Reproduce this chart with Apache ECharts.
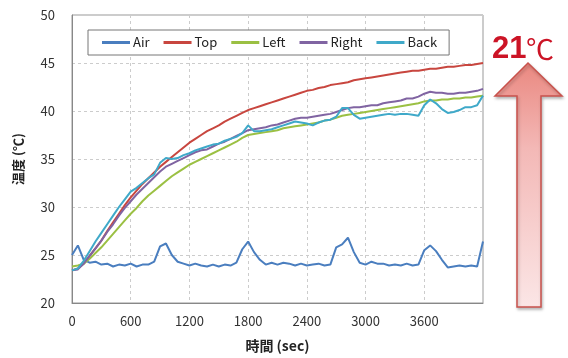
<!DOCTYPE html>
<html>
<head>
<meta charset="utf-8">
<script src="https://cdn.jsdelivr.net/npm/echarts@6/dist/echarts.min.js"></script>
<style>
  html, body { margin: 0; padding: 0; background: #fff; }
  #chart { width: 568px; height: 358px; }
</style>
</head>
<body>
<div id="chart"></div>
<script>
// time axis (sec), one reading per minute
const timeSec = [
  0, 60, 120, 180, 240, 300, 360, 420, 480, 540,
  600, 660, 720, 780, 840, 900, 960, 1020, 1080, 1140,
  1200, 1260, 1320, 1380, 1440, 1500, 1560, 1620, 1680, 1740,
  1800, 1860, 1920, 1980, 2040, 2100, 2160, 2220, 2280, 2340,
  2400, 2460, 2520, 2580, 2640, 2700, 2760, 2820, 2880, 2940,
  3000, 3060, 3120, 3180, 3240, 3300, 3360, 3420, 3480, 3540,
  3600, 3660, 3720, 3780, 3840, 3900, 3960, 4020, 4080, 4140,
  4200
];

const airTemp = [
  25.0, 26.0, 24.5, 24.2, 24.3, 24.0, 24.1, 23.8, 24.0, 23.9,
  24.1, 23.8, 24.0, 24.0, 24.3, 25.9, 26.2, 25.0, 24.3, 24.1,
  23.9, 24.1, 23.9, 23.8, 24.0, 23.8, 24.0, 23.9, 24.2, 25.6,
  26.4, 25.3, 24.5, 24.0, 24.2, 24.0, 24.2, 24.1, 23.9, 24.1,
  23.9, 24.0, 24.1, 23.9, 24.0, 25.8, 26.1, 26.8, 25.3, 24.2,
  24.0, 24.3, 24.1, 24.1, 23.9, 24.0, 23.9, 24.1, 23.9, 24.0,
  25.5, 26.0, 25.4, 24.5, 23.7, 23.8, 23.9, 23.8, 23.9, 23.8,
  26.4
];

const topTemp = [
  23.4, 23.6, 24.1, 24.9, 25.7, 26.5, 27.5, 28.4, 29.3, 30.2,
  31.0, 31.7, 32.4, 33.0, 33.6, 34.2, 34.7, 35.2, 35.7, 36.2,
  36.7, 37.1, 37.5, 37.9, 38.2, 38.5, 38.9, 39.2, 39.5, 39.8,
  40.1, 40.3, 40.5, 40.7, 40.9, 41.1, 41.3, 41.5, 41.7, 41.9,
  42.1, 42.2, 42.4, 42.5, 42.7, 42.8, 42.9, 43.0, 43.2, 43.3,
  43.4, 43.5, 43.6, 43.7, 43.8, 43.9, 44.0, 44.1, 44.2, 44.2,
  44.3, 44.4, 44.4, 44.5, 44.6, 44.6, 44.7, 44.8, 44.8, 44.9,
  45.0
];

const leftTemp = [
  23.8, 23.9, 24.1, 24.6, 25.2, 25.8, 26.5, 27.2, 27.9, 28.6,
  29.3, 29.9, 30.6, 31.2, 31.7, 32.2, 32.7, 33.2, 33.6, 34.0,
  34.4, 34.7, 35.0, 35.3, 35.6, 35.9, 36.2, 36.5, 36.8, 37.2,
  37.5, 37.6, 37.7, 37.8, 37.9, 38.0, 38.2, 38.3, 38.4, 38.5,
  38.6, 38.7, 38.8, 39.0, 39.1, 39.3, 39.5, 39.6, 39.7, 39.8,
  39.9, 40.0, 40.1, 40.2, 40.3, 40.4, 40.5, 40.6, 40.7, 40.8,
  41.0, 41.1, 41.1, 41.2, 41.2, 41.3, 41.3, 41.4, 41.4, 41.5,
  41.6
];

const rightTemp = [
  23.4, 23.5, 24.1, 24.9, 25.7, 26.5, 27.4, 28.2, 29.1, 29.9,
  30.6, 31.3, 31.9, 32.5, 33.1, 33.7, 34.2, 34.5, 34.8, 35.1,
  35.4, 35.7, 35.9, 36.0, 36.3, 36.6, 36.8, 37.1, 37.4, 37.7,
  38.0, 38.1, 38.2, 38.3, 38.5, 38.6, 38.8, 39.0, 39.2, 39.3,
  39.3, 39.4, 39.5, 39.6, 39.7, 39.9, 40.1, 40.3, 40.4, 40.4,
  40.5, 40.6, 40.6, 40.8, 40.9, 41.0, 41.1, 41.3, 41.3, 41.5,
  41.8, 42.0, 41.9, 41.9, 41.8, 41.8, 41.9, 41.9, 42.0, 42.1,
  42.3
];

const backTemp = [
  23.4, 23.6, 24.4, 25.4, 26.4, 27.3, 28.2, 29.1, 30.0, 30.8,
  31.6, 32.0, 32.5, 33.0, 33.4, 34.6, 35.1, 35.0, 35.1, 35.4,
  35.6, 35.9, 36.1, 36.3, 36.5, 36.6, 36.9, 37.1, 37.3, 37.7,
  38.5, 37.9, 37.9, 38.0, 38.1, 38.3, 38.5, 38.7, 38.9, 38.8,
  38.7, 38.5, 38.8, 39.0, 39.1, 39.4, 40.3, 40.3, 39.6, 39.2,
  39.3, 39.4, 39.5, 39.6, 39.7, 39.6, 39.7, 39.7, 39.6, 39.5,
  40.6, 41.2, 40.8, 40.2, 39.8, 39.9, 40.1, 40.4, 40.4, 40.6,
  41.6
];

const seriesNames = ["Air", "Top", "Left", "Right", "Back"];
const seriesColors = ["#4a7ebf", "#c8463f", "#9bc043", "#8064a2", "#3fa9c9"];
const seriesValues = [airTemp, topTemp, leftTemp, rightTemp, backTemp];

const chart = echarts.init(document.getElementById("chart"));

const font = "'Noto Sans CJK JP', 'Noto Sans', sans-serif";

const option = {
  animation: false,
  backgroundColor: "#fff",
  grid: {
    left: 72,
    right: 85,
    top: 15,
    bottom: 51,
    show: true,
    borderColor: "#999",
    borderWidth: 1,
  },
  legend: {
    data: seriesNames,
    left: 88,
    top: 30,
    padding: [6, 12, 6, 14],
    itemWidth: 28,
    itemHeight: 3,
    itemGap: 14,
    icon: "rect",
    borderColor: "#777",
    borderWidth: 1,
    backgroundColor: "#fff",
    textStyle: { fontFamily: font, fontSize: 13, color: "#222", padding: [0, 0, 0, -2] },
  },
  xAxis: {
    type: "value",
    min: 0,
    max: 4200,
    interval: 600,
    name: "時間 (sec)",
    nameLocation: "middle",
    nameGap: 36,
    nameTextStyle: { fontFamily: font, fontSize: 14, fontWeight: "bold", color: "#222" },
    axisLine: { lineStyle: { color: "#888" } },
    axisTick: { show: false },
    axisLabel: {
      showMaxLabel: false,
      margin: 12,
      fontFamily: font,
      fontSize: 13,
      color: "#333",
      formatter: (v) => String(v),
    },
    splitLine: { lineStyle: { color: "#ccc", type: [3, 3] } },
  },
  yAxis: {
    type: "value",
    min: 20,
    max: 50,
    interval: 5,
    name: "温度 (℃)",
    nameLocation: "middle",
    nameGap: 47,
    nameTextStyle: { fontFamily: font, fontSize: 13, fontWeight: "bold", color: "#222" },
    axisLine: { show: true, lineStyle: { color: "#888" } },
    axisTick: { show: false },
    axisLabel: { margin: 17, fontFamily: font, fontSize: 13, color: "#333" },
    splitLine: { lineStyle: { color: "#ccc", type: [3, 3] } },
  },
  series: seriesNames.map((name, i) => ({
    name,
    type: "line",
    showSymbol: false,
    color: seriesColors[i],
    lineStyle: { width: 2, color: seriesColors[i] },
    data: timeSec.map((t, k) => [t, seriesValues[i][k]]),
  })),
  graphic: [
    {
      type: "polygon",
      shape: {
        points: [[528, 63], [562, 96], [541, 96], [541, 307], [517, 307], [517, 96], [495, 96]],
      },
      style: {
        fill: new echarts.graphic.LinearGradient(0, 0, 0, 1, [
          { offset: 0, color: "#ea8880" },
          { offset: 0.35, color: "#f3b8b6" },
          { offset: 1, color: "#fbe6e6" },
        ]),
        stroke: "#c9524c",
        lineWidth: 1.5,
        shadowBlur: 3,
        shadowColor: "rgba(0,0,0,0.25)",
        shadowOffsetX: 1,
        shadowOffsetY: 2,
      },
    },
    {
      type: "text",
      left: 492,
      top: 34,
      style: { text: "21", fill: "#cc1426", font: "bold 31px 'Liberation Sans', sans-serif" },
    },
    {
      type: "text",
      left: 526,
      top: 35,
      style: { text: "℃", fill: "#cc1426", font: "28px 'Noto Sans CJK JP', sans-serif" },
    },
  ],
};

chart.setOption(option);
</script>
</body>
</html>
